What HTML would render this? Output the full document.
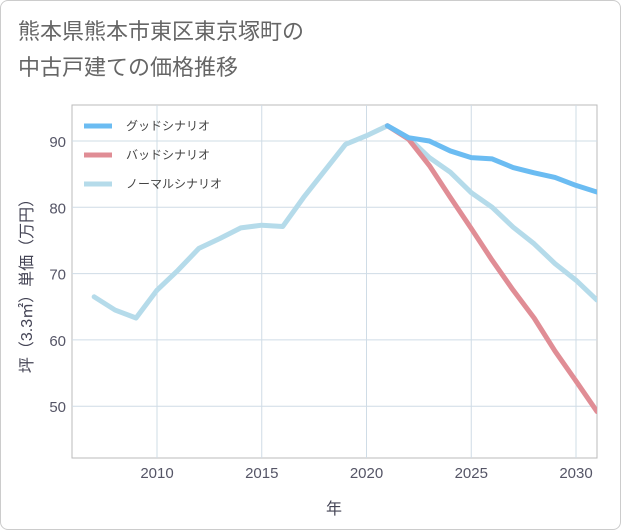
<!DOCTYPE html>
<html><head><meta charset="utf-8"><style>
body{margin:0;background:#fff;}
#wrap{width:619px;height:528px;position:relative;font-family:"Liberation Sans","Noto Sans CJK JP",sans-serif;border:1px solid #ccc;border-radius:8px;overflow:hidden;}
.title{position:absolute;left:17px;top:13px;font-size:22px;line-height:36px;color:#666;}
</style></head><body>
<div id="wrap">
<div class="title">熊本県熊本市東区東京塚町の<br>中古戸建ての価格推移</div>
<svg id="svg" width="621" height="530" style="position:absolute;left:-1px;top:-1px"></svg>
</div>
<script>
const years=[2007,2008,2009,2010,2011,2012,2013,2014,2015,2016,2017,2018,2019,2020,2021,2022,2023,2024,2025,2026,2027,2028,2029,2030,2031];
const normalVals=[66.5,64.5,63.3,67.5,70.5,73.8,75.3,76.9,77.3,77.1,81.5,85.5,89.5,90.8,92.3,90.5,87.5,85.3,82.2,80,77,74.5,71.5,69,66];
const goodYears=[2021,2022,2023,2024,2025,2026,2027,2028,2029,2030,2031];
const goodVals=[92.3,90.5,90,88.5,87.5,87.3,86,85.2,84.5,83.3,82.3];
const badVals=[92.3,90.3,86.3,81.5,76.8,72,67.5,63.3,58.3,53.8,49.2];
const xTicks=[2010,2015,2020,2025,2030];
const yTicks=[50,60,70,80,90];
const L=72,R=597,T=105,B=458;
const x=v=>157+(v-2010)*20.95;
const y=v=>141+(90-v)*6.63;
const svg=document.getElementById('svg');const NS='http://www.w3.org/2000/svg';
function mk(t,a,p){const e=document.createElementNS(NS,t);for(const k in a)e.setAttribute(k,a[k]);(p||svg).appendChild(e);return e;}
const frame=mk('rect',{x:L,y:T,width:R-L,height:B-T,fill:'none',stroke:'#bbb'});


xTicks.forEach(t=>{const l=mk('line',{x1:x(t),x2:x(t),y1:T,y2:B,stroke:'#cfdce6'});


const tx=mk('text',{x:x(t),y:478,'text-anchor':'middle','font-size':15,fill:'#556'});tx.textContent=t;

});
yTicks.forEach(t=>{const l=mk('line',{x1:L,x2:R,y1:y(t),y2:y(t),stroke:'#cfdce6'});


const tx=mk('text',{x:66,y:y(t)+6,'text-anchor':'end','font-size':15,fill:'#556'});tx.textContent=t;

});
const g=mk('g',{'clip-path':'url(#c)'});
const cp=mk('clipPath',{id:'c'});mk('rect',{x:L,y:T,width:R-L,height:B-T},cp);
function line(xs,vs,col,name){const p=mk('polyline',{points:xs.map((a,i)=>x(a)+','+y(vs[i])).join(' '),fill:'none',stroke:col,'stroke-width':5,'stroke-linejoin':'round','stroke-linecap':'round'},g);

}
line(years,normalVals,'#b5dbea','normal-line');
line(goodYears,badVals,'#e08d95','bad-line');
line(goodYears,goodVals,'#6bbcf2','good-line');
const leg=[['グッドシナリオ','#6bbcf2'],['バッドシナリオ','#e08d95'],['ノーマルシナリオ','#b5dbea']];
leg.forEach((d,i)=>{const yy=126+i*29;const l=mk('line',{x1:84,x2:112,y1:yy,y2:yy,stroke:d[1],'stroke-width':5});


const t=mk('text',{x:126,y:yy+4,'font-size':12,fill:'#444'});t.textContent=d[0];

});
const xt=mk('text',{x:334,y:514,'text-anchor':'middle','font-size':16,fill:'#445'});xt.textContent='年';


const yt=mk('text',{x:0,y:0,'text-anchor':'middle','font-size':16,fill:'#445',transform:'translate(32,282) rotate(-90)'});yt.textContent='坪（3.3㎡）単価（万円）';


</script>
</body></html>
